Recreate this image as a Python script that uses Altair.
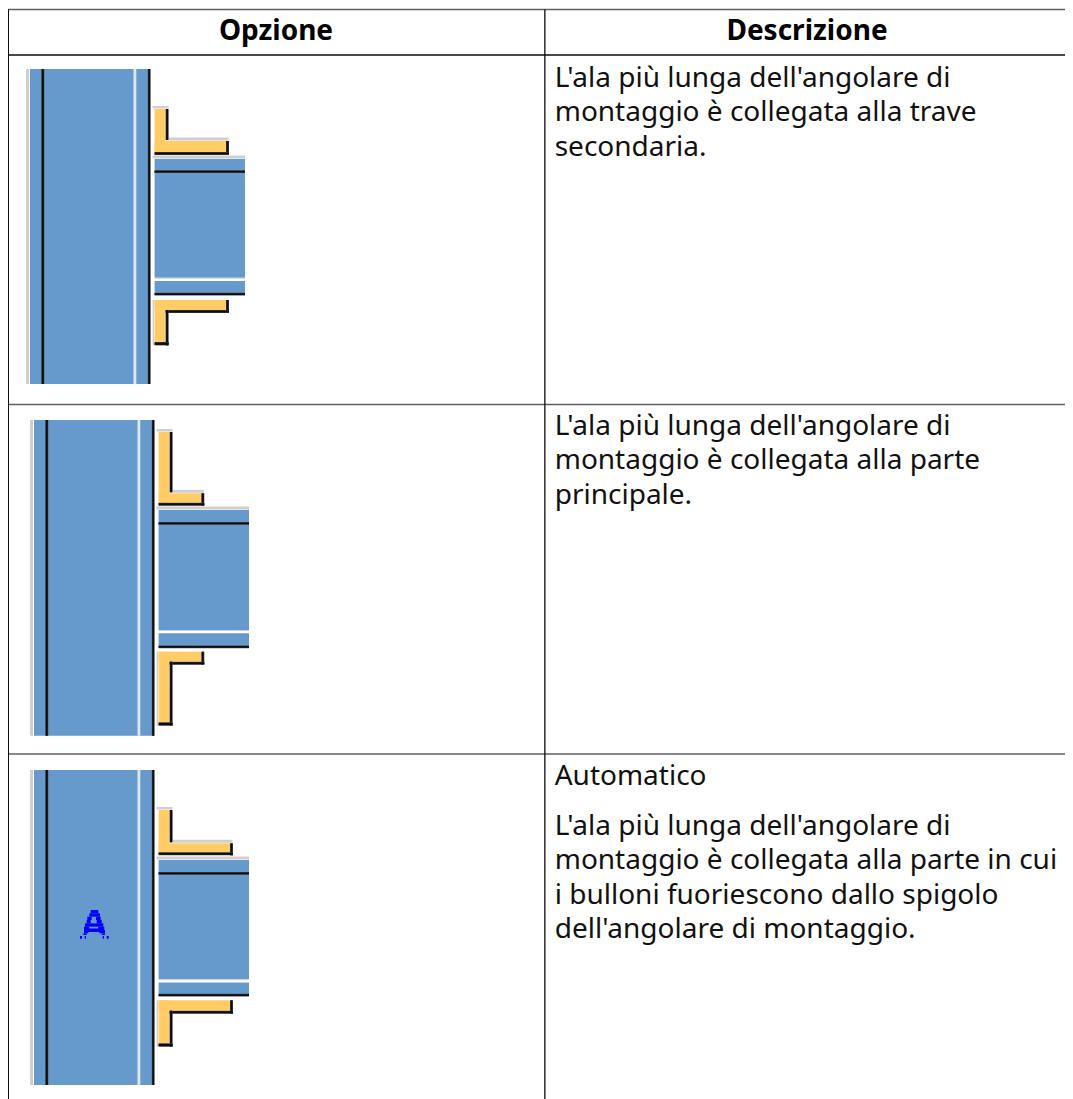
import altair as alt
import pandas as pd

# ---- measured table geometry (page pixels used as data units) ----
PAGE_W, PAGE_H = 1065, 1099
table_left, divider_x, table_right = 8, 545, 1065
hline_y = [9.5, 55, 404.5, 754]
hline_kind = ["grid", "ink", "grid", "grid"]

# ---- measured drawing dimensions, one entry per table row ----
col_left = [30, 34, 34]
col_top = [69, 420, 770]
col_bottom = [384, 735.7, 1085]
up_top = [109, 432, 810]
up_arm_top = [141, 493.3, 843.3]
up_arm_bottom = [152, 502.7, 852.3]
arm_right = [226, 201.3, 230]
beam_top = [159, 510, 860]
beam_web = [171.7, 523.3, 873.3]
beam_strip = [277.7, 630, 979.3]
beam_bottom = [293.3, 646, 994.3]
low_top = [300, 651.7, 1000.3]
low_arm_bottom = [310, 661.7, 1010.7]
low_bottom = [342, 722.3, 1043.3]

# ---- text ----
head_text = ["Opzione", "Descrizione"]
head_x = [276, 807]
head_base = [40, 40]
body_text = [
    "L'ala più lunga dell'angolare di",
    "montaggio è collegata alla trave",
    "secondaria.",
    "L'ala più lunga dell'angolare di",
    "montaggio è collegata alla parte",
    "principale.",
    "Automatico",
    "L'ala più lunga dell'angolare di",
    "montaggio è collegata alla parte in cui",
    "i bulloni fuoriescono dallo spigolo",
    "dell'angolare di montaggio.",
]
body_base = [87, 121.3, 155.5, 435, 469.4, 504, 785, 835, 869.4, 903.8, 938.2]
body_x = 554.7

# ---- automatic-mode icon: horizontal pixel runs of the bitmap ----
icon_x0 = [90.7, 89.3, 87.3, 96, 86.7, 96.7, 85, 84, 98.3, 84, 88, 99.3, 83.3, 101.7, 80, 84.7, 102.7, 106.7]
icon_x1 = [98.3, 100, 91.7, 100.7, 90.7, 101.7, 103.3, 89.3, 104.3, 88.3, 100, 105, 86.7, 105, 82, 86, 104, 108.7]
icon_y0 = [910, 913.3, 916.7, 916.7, 920, 920, 923.3, 926.7, 926.7, 930, 928.5, 930, 933.3, 933.3, 936, 936, 936, 936]
icon_y1 = [913.3, 916.7, 920, 920, 923.3, 923.3, 926.7, 930, 930, 933.3, 932, 933.3, 935, 935, 938.7, 938.7, 938.7, 938.7]

rects = []


def add(kind, x0, x1, y0, y1):
    rects.append({"kind": kind, "x0": x0, "x1": x1, "y0": y0, "y1": y1})


def add_line(x0, x1, y0, y1):
    # dark line with the soft grey edge of the scaled-up bitmap
    add("edge", x0, x1, y0, y1)
    if x1 - x0 < y1 - y0:
        add("ink", x0 + 0.5, x1 - 0.5, y0, y1)
    else:
        add("ink", x0, x1, y0 + 0.5, y1 - 0.5)


for i in range(3):
    L = col_left[i]
    T, B = col_top[i], col_bottom[i]
    # main column
    add("halo", L - 4, L - 1, T, B)
    add("blue", L, L + 120, T, B)
    add("white", L + 103.5, L + 106.3, T, B)
    add_line(L + 11.3, L + 14.3, T, B)
    add_line(L + 117.8, L + 120.6, T, B)

    bx0, bx1 = L + 124.6, L + 215
    ax = bx0
    ay = ax + 11
    r = arm_right[i]
    # beam
    add("halo", bx0 - 2, bx1, beam_top[i] - 3.5, beam_top[i] - 0.5)
    add("blue", bx0, bx1, beam_top[i], beam_strip[i])
    add("halo", bx0, bx1, beam_strip[i], beam_strip[i] + 1)
    add("blue", bx0, bx1, beam_strip[i] + 3.3, beam_bottom[i])
    add_line(bx0, bx1, beam_web[i] - 1.4, beam_web[i] + 1.4)
    add_line(bx0, bx1, beam_bottom[i] - 0.6, beam_bottom[i] + 2.2)

    # upper angle
    add("halo", ax - 2, ay + 3, up_top[i] - 3, up_top[i] - 0.5)
    add("halo", ay + 3, r + 2.5, up_arm_top[i] - 3.5, up_arm_top[i] - 0.5)
    add("yellow", ax, ay, up_top[i], up_arm_bottom[i])
    add("yellow", ax, r, up_arm_top[i], up_arm_bottom[i])
    add_line(ay, ay + 3, up_top[i], up_arm_top[i] - 1)
    add_line(r, r + 3, up_arm_top[i], up_arm_bottom[i] + 3)
    add_line(ax, r + 3, up_arm_bottom[i], up_arm_bottom[i] + 3)

    # lower angle
    add("halo", ax - 2, ax - 0.5, low_top[i], low_bottom[i] + 3.4)
    add("yellow", ax, r, low_top[i], low_arm_bottom[i])
    add("yellow", ax, ay, low_top[i], low_bottom[i])
    add_line(r, r + 3, low_top[i], low_arm_bottom[i] + 3)
    add_line(ay, r + 3, low_arm_bottom[i], low_arm_bottom[i] + 3)
    add_line(ay, ay + 3, low_arm_bottom[i], low_bottom[i] + 3.4)
    add_line(ax, ay + 3, low_bottom[i], low_bottom[i] + 3.4)

for x0, x1, y0, y1 in zip(icon_x0, icon_x1, icon_y0, icon_y1):
    add("icon", x0, x1, y0, y1)

# table rules
for y, k in zip(hline_y, hline_kind):
    add("rule" if k == "grid" else "ink", table_left, table_right, y - 0.8, y + 0.8)
add("ink", table_left, table_left + 1, hline_y[0], PAGE_H)
add("ink", divider_x - 0.8, divider_x + 0.5, hline_y[0], PAGE_H)

rect_df = pd.DataFrame(rects)
kinds = ["halo", "white", "blue", "yellow", "edge", "ink", "rule", "icon"]
kind_colors = ["#cfcfcf", "#dfe6ee", "#6699cc", "#ffcc66", "#4a4a4a", "#0d0d0d", "#5f5f5f", "#0000ff"]

xs = alt.Scale(domain=[table_left, PAGE_W], nice=False, zero=False)
ys = alt.Scale(domain=[PAGE_H, table_left], nice=False, zero=False)
X = alt.X("x:Q", scale=xs, axis=None)
Y = alt.Y("y:Q", scale=ys, axis=None)

shapes = alt.Chart(rect_df).mark_rect(strokeWidth=0).encode(
    x=alt.X("x0:Q", scale=xs, axis=None),
    x2="x1:Q",
    y=alt.Y("y0:Q", scale=ys, axis=None),
    y2="y1:Q",
    color=alt.Color("kind:N", scale=alt.Scale(domain=kinds, range=kind_colors), legend=None),
)

head_df = pd.DataFrame({"x": head_x, "y": head_base, "t": head_text})
head = alt.Chart(head_df).mark_text(
    font="Noto Sans", fontWeight="bold", fontSize=28, align="center", baseline="alphabetic", color="#000000"
).encode(x=X, y=Y, text="t:N")

body_df = pd.DataFrame({"x": [body_x] * len(body_text), "y": body_base, "t": body_text})
body = alt.Chart(body_df).mark_text(
    font="Noto Sans", fontSize=28, align="left", baseline="alphabetic", color="#111111"
).encode(x=X, y=Y, text="t:N")

chart = (
    alt.layer(shapes, head, body)
    .properties(
        width=PAGE_W - table_left,
        height=PAGE_H - table_left,
        padding=0,
        autosize=alt.AutoSizeParams(type="none"),
        background="#ffffff",
    )
    .configure_view(stroke=None)
)

chart.save("out.html", embed_options={"renderer": "svg", "actions": False})
